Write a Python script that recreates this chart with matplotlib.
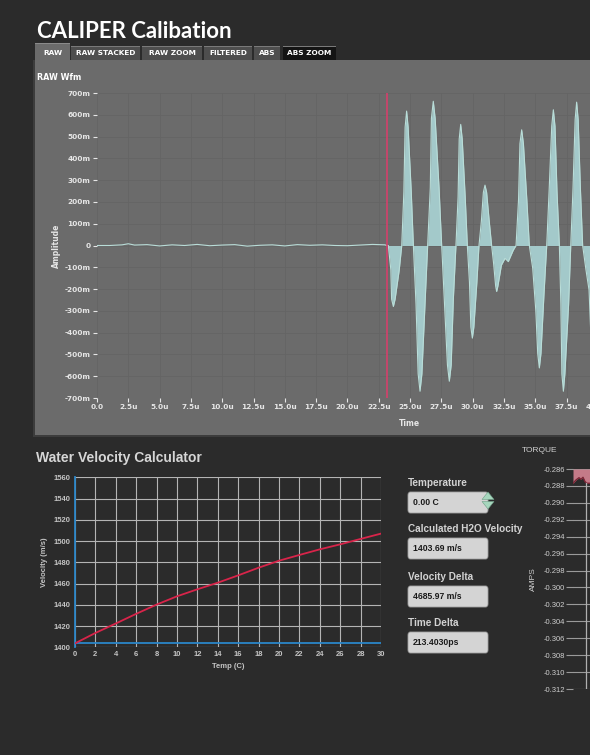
import matplotlib
matplotlib.use("Agg")
import matplotlib.pyplot as plt
from matplotlib.patches import Rectangle, FancyBboxPatch, Polygon

W, H = 590, 755

# raw waveform: quiet part then the burst (time in us, amplitude in mV)
noise_t = [0, 1, 2, 2.5, 3, 4, 5, 6, 7, 8, 9, 10, 11, 12, 13, 14, 15, 16, 17, 18,
           19, 20, 21, 22, 23, 23.14]
noise_v = [0, 0, 3, 8, 2, 4, -2, 3, 0, 5, -1, 2, 4, -3, 1, 3, -2, 4, 1, 3,
           0, -1, 2, 5, 3, 0]
burst_t = [23.14, 23.27, 23.47, 23.53, 23.67, 23.81, 24.14, 24.34,
           24.51, 24.61, 24.73, 24.85, 25.10, 25.27,
           25.48, 25.65, 25.80, 25.95, 26.20, 26.41,
           26.62, 26.71, 26.86, 27.01, 27.32, 27.53,
           27.74, 27.99, 28.14, 28.29, 28.46, 28.67,
           28.84, 28.93, 29.05, 29.17, 29.41, 29.58,
           29.75, 29.86, 29.98, 30.10, 30.34, 30.51,
           30.70, 30.86, 30.99, 31.12, 31.33, 31.52,
           31.68, 31.84, 31.92, 32.02, 32.30, 32.59, 32.85, 33.25, 33.47,
           33.67, 33.78, 33.92, 34.06, 34.33, 34.53,
           34.80, 35.05, 35.20, 35.33, 35.46, 35.70, 35.92,
           36.11, 36.32, 36.45, 36.58, 36.74, 36.93,
           37.05, 37.13, 37.25, 37.37, 37.67, 37.84,
           38.02, 38.19, 38.31, 38.43, 38.61, 38.79,
           39.05, 39.30, 39.55, 39.70, 40.30]
burst_v = [0, 0, -112, -246, -280, -246, -112, 0,
           247, 543, 617, 543, 247, 0,
           -268, -589, -669, -589, -268, 0,
           265, 583, 662, 583, 265, 0,
           -249, -548, -623, -548, -249, 0,
           222, 489, 556, 489, 222, 0,
           -170, -374, -425, -374, -170, 0,
           111, 244, 277, 244, 111, 0,
           -84, -186, -211, -186, -90, -59, -74, -21, 0,
           212, 467, 531, 467, 212, 0,
           -104, -300, -495, -562, -495, -225, 0,
           249, 548, 623, 548, 249, 0,
           -268, -589, -669, -589, -268, 0,
           263, 579, 658, 579, 263, 0,
           -110, -204, -560, -640, 0]
cursor_t = 23.14

x_ticks = [0, 2.5, 5, 7.5, 10, 12.5, 15, 17.5, 20, 22.5, 25, 27.5, 30, 32.5, 35, 37.5, 40]
x_labels = ["0.0", "2.5u", "5.0u", "7.5u", "10.0u", "12.5u", "15.0u", "17.5u", "20.0u",
            "22.5u", "25.0u", "27.5u", "30.0u", "32.5u", "35.0u", "37.5u", "40.0u"]
y_ticks = [700, 600, 500, 400, 300, 200, 100, 0, -100, -200, -300, -400, -500, -600, -700]
y_labels = ["700m", "600m", "500m", "400m", "300m", "200m", "100m", "0", "-100m", "-200m",
            "-300m", "-400m", "-500m", "-600m", "-700m"]

# water velocity vs temperature
temp_c = [0, 2, 4, 6, 8, 10, 12, 14, 16, 18, 20, 22, 24, 26, 28, 30]
velocity = [1403.7, 1413.5, 1422.4, 1431.5, 1440.2, 1448.0, 1454.6, 1460.8, 1467.7,
            1474.9, 1481.5, 1486.9, 1492.2, 1496.9, 1502.0, 1507.0]
current_velocity = 1403.69

# torque strip
torque_x = [0, 0.3, 0.6, 0.8, 1.0, 1.2, 1.4, 10]
torque_v = [-0.28769, -0.2873, -0.28703, -0.28722, -0.28698, -0.2875, -0.28769, -0.28769]
torque_ticks = [-0.286 - 0.002 * i for i in range(14)]

tabs = ["RAW", "RAW STACKED", "RAW ZOOM", "FILTERED", "ABS", "ABS ZOOM"]
tab_x = [(35, 70), (71, 140), (142, 202), (204, 252), (254, 280), (283, 336)]

fields = [("Temperature", "0.00 C"), ("Calculated H2O Velocity", "1403.69 m/s"),
          ("Velocity Delta", "4685.97 m/s"), ("Time Delta", "213.4030ps")]
field_y = [483, 529, 577, 623]

BG = "#2b2b2b"
PANEL = "#6b6b6b"

fig = plt.figure(figsize=(W / 100, H / 100), dpi=100, facecolor=BG)


def fx(x):
    return x / W


def fy(y):
    return 1 - y / H


def add_ax(l, t, r, b):
    return fig.add_axes([fx(l), fy(b), (r - l) / W, (b - t) / H])


def rect(x0, y0, x1, y1, color, z=-5, **kw):
    fig.add_artist(Rectangle((fx(x0), fy(y1)), (x1 - x0) / W, (y1 - y0) / H,
                             transform=fig.transFigure, facecolor=color, zorder=z, **kw))


# header
fig.text(fx(37), fy(38), "CALIPER Calibation", color="white", fontsize=16,
         fontweight="bold", family="Lato", va="baseline")

# gray panel and tabs
rect(33, 60, 592, 437, "#3c3c3c")
rect(35, 60, 592, 435, PANEL)
for i, (name, (a, b)) in enumerate(zip(tabs, tab_x)):
    if i == 0:
        rect(a, 43, b, 61, PANEL, z=-4)
        rect(a, 43, b, 44, "#8a8a8a", z=-3)
    else:
        col = "#141414" if name == "ABS ZOOM" else "#4e4e4e"
        rect(a, 46, b, 60, col, z=-4)
        rect(a, 46, b, 47, "#7a7a7a", z=-3)
    fig.text(fx((a + b) / 2), fy(53), name, color="white", fontsize=5.3,
             fontweight="bold", ha="center", va="center")

fig.text(fx(37), fy(77), "RAW Wfm", color="white", fontsize=5.8, fontweight="bold",
         va="center")

ax = add_ax(97, 93, 97 + 40 * 12.52, 398)
ax.set_facecolor(PANEL)
ax.fill_between(burst_t, burst_v, 0, color="#a3c9ca", lw=0, zorder=2)
ax.plot(burst_t, burst_v, color="#b9ddd8", lw=0.8, zorder=3)
ax.plot(noise_t, noise_v, color="#b9ddd8", lw=0.8, zorder=3)
ax.axvline(cursor_t, color="#d4406c", lw=1.2, zorder=4)
ax.set_xlim(0, 40)
ax.set_ylim(-700, 700)
ax.set_xticks(x_ticks, x_labels)
ax.set_yticks(y_ticks, y_labels)
ax.grid(True, color="#646464", lw=0.6)
for s in ax.spines.values():
    s.set_visible(False)
ax.tick_params(colors="#e6e6e6", labelsize=5.3, length=3, width=0.8, pad=1.5)
for lab in ax.get_xticklabels() + ax.get_yticklabels():
    lab.set_fontweight("bold")
ax.set_xlabel("Time", color="#e6e6e6", fontsize=5.5, fontweight="bold", labelpad=1)
ax.xaxis.set_label_coords((409 - 97) / (40 * 12.52), -0.07)
ax.set_ylabel("Amplitude", color="#e6e6e6", fontsize=5.5, fontweight="bold")
ax.yaxis.set_label_coords(-(97 - 61) / (40 * 12.52), 0.5)

# water velocity calculator
fig.text(fx(36), fy(458), "Water Velocity Calculator", color="#d6d6d6", fontsize=10,
         fontweight="bold", family="Liberation Sans", va="center")
vx = add_ax(75, 477.3, 381, 647.3)
vx.set_facecolor(BG)
vx.plot(temp_c, velocity, color="#d8244a", lw=1.3, zorder=4)
vx.axhline(current_velocity, color="#2a86c9", lw=1.3, zorder=3)
vx.set_xlim(0, 30)
vx.set_ylim(1400, 1560)
vx.set_xticks(range(0, 31, 2))
vx.set_yticks(range(1400, 1561, 20))
vx.grid(True, color="#b4b4b4", lw=0.8)
for k, s in vx.spines.items():
    s.set_visible(k == "left")
vx.spines["left"].set_color("#2a86c9")
vx.spines["left"].set_linewidth(1.3)
vx.tick_params(colors="#c4c4c4", labelsize=5.5, length=0, pad=3)
for lab in vx.get_xticklabels() + vx.get_yticklabels():
    lab.set_fontweight("bold")
    lab.set_family("Liberation Sans")
vx.set_xlabel("Temp (C)", color="#c4c4c4", fontsize=5.5, fontweight="bold",
              family="Liberation Sans", labelpad=3)
vx.set_ylabel("Velocity (m/s)", color="#c4c4c4", fontsize=5.5, fontweight="bold",
              family="Liberation Sans", labelpad=4)

# indicator boxes
for (label, value), y in zip(fields, field_y):
    fig.text(fx(408), fy(y), label, color="#d2d2d2", fontsize=7.2, fontweight="bold",
             family="Liberation Sans", va="center")
    fig.add_artist(FancyBboxPatch((fx(408), fy(y + 30)), 80 / W, 21 / H,
                                  boxstyle="round,pad=0,rounding_size=0.004",
                                  transform=fig.transFigure, facecolor="#d4d4d4",
                                  edgecolor="#a0a0a0", lw=0.6))
    fig.text(fx(413), fy(y + 19.5), value, color="#1a1a1a", fontsize=6.2,
             fontweight="bold", family="Liberation Sans", va="center")

for pts in ([(482, 499.5), (494, 499.5), (488, 492)], [(482, 501.5), (494, 501.5), (488, 509)]):
    fig.add_artist(Polygon([(fx(a), fy(b)) for a, b in pts], closed=True,
                           transform=fig.transFigure, facecolor="#a6d6bd",
                           edgecolor="#6f9f88", lw=0.4))

# torque strip
fig.text(fx(540), fy(450), "TORQUE", color="#d0d0d0", fontsize=6, ha="center",
         va="center", family="Liberation Sans")
tq = add_ax(573, 469, 673, 689)
tq.set_facecolor(BG)
tq.fill_between(torque_x, torque_v, -0.286, color="#c47a88", lw=0, zorder=2)
tq.plot(torque_x, torque_v, color="#7a2636", lw=1, zorder=3)
tq.plot([1.3, 1.3], [-0.312, torque_v[-1]], color="#b0b0b0", lw=0.9, zorder=3)
tq.set_xlim(0, 10)
tq.set_ylim(-0.312, -0.286)
tq.set_xticks([])
tq.set_yticks(torque_ticks, ["%.3f" % v for v in torque_ticks])
tq.grid(True, axis="y", color="#9a9a9a", lw=0.8)
for s in tq.spines.values():
    s.set_visible(False)
tq.tick_params(axis="y", colors="#cfcfcf", labelsize=5.5, length=5, width=0.8,
               pad=1, color="#9a9a9a")
for lab in tq.get_yticklabels():
    lab.set_family("Liberation Sans")
tq.set_ylabel("AMPS", color="#cfcfcf", fontsize=6, family="Liberation Sans")
tq.yaxis.set_label_coords(-(573 - 537) / 100, 0.5)

fig.savefig("out.png", dpi=100, facecolor=BG)
